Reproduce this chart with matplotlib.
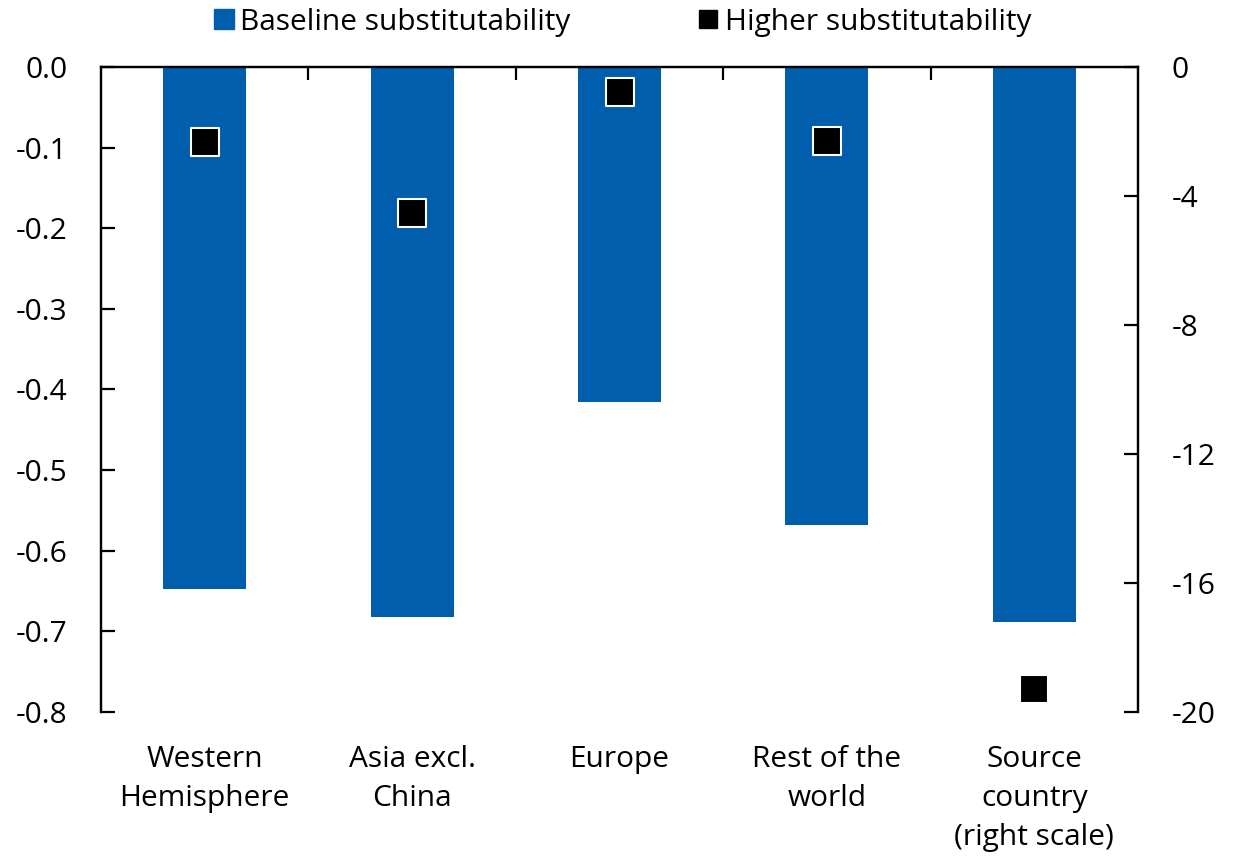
import matplotlib
matplotlib.use('Agg')
import matplotlib.pyplot as plt
from matplotlib.lines import Line2D

plt.rcParams['font.family'] = ['Open Sans', 'DejaVu Sans']

categories = ['Western\nHemisphere', 'Asia excl.\nChina', 'Europe', 'Rest of the\nworld',
              'Source\ncountry\n(right scale)']
# first four on left scale, last on right scale
baseline_left = [-0.648, -0.682, -0.415, -0.568]
higher_left = [-0.093, -0.181, -0.031, -0.092]
baseline_right = -17.2
higher_right = -19.3
left_ticks = [0.0, -0.1, -0.2, -0.3, -0.4, -0.5, -0.6, -0.7, -0.8]
right_ticks = [0, -4, -8, -12, -16, -20]

blue = '#005EAC'
fs = 21.5

fig = plt.figure(figsize=(12.43, 8.64), dpi=100)
ax = fig.add_axes([0.0813, 0.1759, 0.8342, 0.7466])
ax2 = ax.twinx()

x = list(range(5))
ax.bar(x[:4], baseline_left, width=0.4, color=blue, zorder=2)
ax.scatter(x[:4], higher_left, marker='s', s=380, color='black', edgecolors='white',
           linewidths=1.5, zorder=3)
ax2.bar([x[4]], [baseline_right], width=0.4, color=blue, zorder=2)
ax2.scatter([x[4]], [higher_right], marker='s', s=380, color='black', edgecolors='white',
            linewidths=1.5, zorder=3)

ax.set_xlim(-0.5, 4.5)
ax.set_ylim(-0.8, 0)
ax2.set_ylim(-20, 0)
ax.set_yticks(left_ticks)
ax.set_yticklabels(['%.1f' % t for t in left_ticks])
ax2.set_yticks(right_ticks)
ax2.set_yticklabels([str(t) for t in right_ticks])

for a in (ax, ax2):
    a.spines['bottom'].set_visible(False)
    a.spines['top'].set_linewidth(1.6)
    a.spines['left'].set_linewidth(1.6)
    a.spines['right'].set_linewidth(1.6)

ax.tick_params(axis='y', direction='in', length=10, width=1.6, labelsize=fs, pad=24)
ax2.tick_params(axis='y', direction='in', length=10, width=1.6, labelsize=fs, pad=24)

ax.set_xticks(x)
ax.set_xticklabels(categories)
ax.tick_params(axis='x', which='major', length=0, labelsize=fs, pad=24)
for lbl in ax.get_xticklabels():
    lbl.set_linespacing(1.45)
ax.set_xticks([0.5, 1.5, 2.5, 3.5], minor=True)
ax.tick_params(axis='x', which='minor', top=True, bottom=False, direction='in',
               length=9, width=1.6)

handles = [Line2D([], [], marker='s', linestyle='none', color=blue, markersize=14),
           Line2D([], [], marker='s', linestyle='none', color='black', markersize=13)]
fig.legend(handles, ['Baseline substitutability', 'Higher substitutability'],
           loc='upper center', bbox_to_anchor=(0.5, 1.022), ncol=2, frameon=False,
           fontsize=fs, handletextpad=0.15, columnspacing=4.2, handlelength=0.8)

fig.savefig('out.png', dpi=100)
plt.close(fig)
